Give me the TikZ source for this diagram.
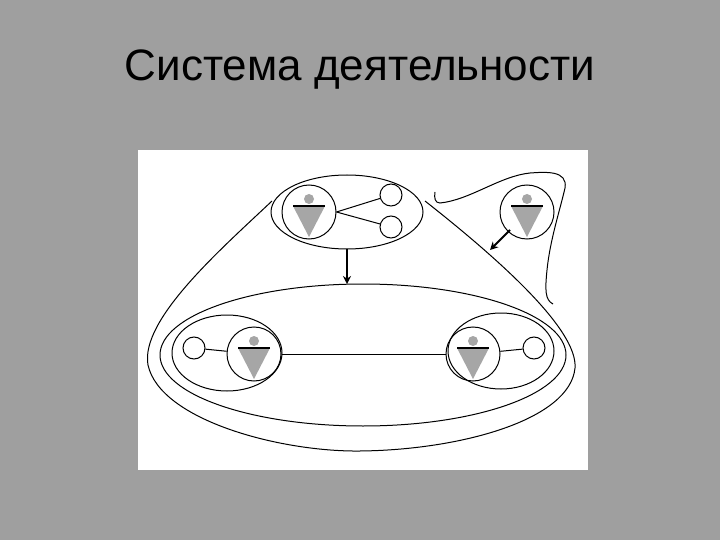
\documentclass[tikz,border=0pt]{standalone}
\usepackage{fontspec}
\setmainfont{Liberation Sans}
\usetikzlibrary{arrows.meta}
\begin{document}
\begin{tikzpicture}[x=1pt,y=-1pt,
  ln/.style={black,line width=1pt},
  sm/.style={circle,draw,line width=1pt,minimum size=22pt,inner sep=0pt,fill=white},
  pc/.style={circle,draw,line width=1pt,minimum size=54pt,inner sep=0pt},
  arr/.style={black,line width=2pt,-{Stealth[length=8pt,width=8pt]}}]
\fill[gray!75] (0,0) rectangle (720,540);
\useasboundingbox (0,0) rectangle (720,540);
\fill[white] (138,150) rectangle (588,470);
\node (title) at (360,70) {\fontsize{44}{48}\selectfont Система деятельности};
% outer contour
\draw[ln] (272,201) .. controls (220,250) and (140,320) .. (148,365)
  .. controls (160,420) and (280,452) .. (360,451)
  .. controls (460,450) and (570,420) .. (575,368)
  .. controls (578,330) and (500,260) .. (425,201);
% top-right curve
\draw[ln] (553,304) .. controls (545,300) and (545,290) .. (547,270)
  .. controls (550,240) and (560,210) .. (565,188)
  .. controls (568,170) and (545,172) .. (530,173)
  .. controls (500,176) and (470,200) .. (440,203)
  .. controls (435,203) and (434,198) .. (435,192);
% top group
\draw[ln,fill=white] (347,212) ellipse [x radius=76,y radius=37];
\node[pc] (ptop) at (309,212) {};
\node[sm] (st1) at (391,195) {};
\node[sm] (st2) at (391,227) {};
\draw[ln] (ptop.east) -- (st1); \draw[ln] (ptop.east) -- (st2);
% big ellipse
\draw[ln] (363,355) ellipse [x radius=203,y radius=71];
\draw[ln] (227,353) ellipse [x radius=55,y radius=38];
\draw[ln] (501,351) ellipse [x radius=53,y radius=38];
\node[pc] (pl) at (254,354) {};
\node[sm] (sl) at (194,348) {};
\node[pc] (pr) at (473,354) {};
\node[sm] (sr) at (534,348) {};
\draw[ln] (sl) -- (pl); \draw[ln] (pr) -- (sr);
\draw[ln] (pl.east) -- (pr.west);
\node[pc] (prt) at (527,212) {};
% persons
\foreach \p in {ptop,pl,pr,prt}{
  \fill[gray!70] ([shift={(-16,-6)}]\p.center) -- ++(32,0) -- ++(-16,31) -- cycle;
  \draw[line width=1.5pt] ([shift={(-16,-6)}]\p.center) -- ++(32,0);
  \fill[gray!70] ([shift={(0,-13)}]\p.center) circle (5);
}
% arrows
\coordinate (a1) at (347,249); \coordinate (a2) at (347,284);
\draw[arr] (a1) -- (a2);
\coordinate (b1) at (510,230); \coordinate (b2) at (490,250);
\draw[arr] (b1) -- (b2);
\end{tikzpicture}
\end{document}
